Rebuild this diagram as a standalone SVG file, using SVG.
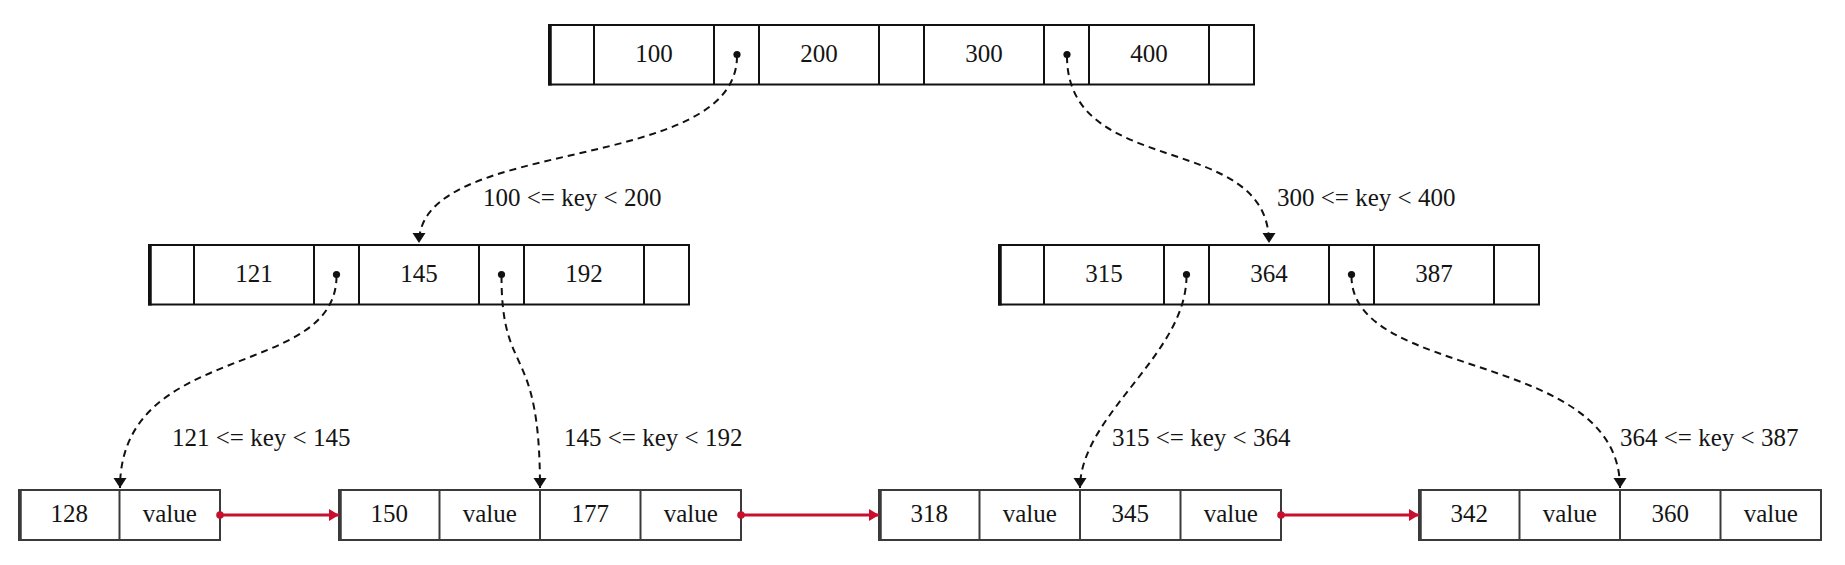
<svg xmlns="http://www.w3.org/2000/svg" width="1845" height="565" viewBox="0 0 1845 565">
<defs>
<style>
.cell{fill:#fff;stroke:#111;stroke-width:2}
.lcell{fill:#fff;stroke:#3a3a3a;stroke-width:2}
.edge{stroke:#111;stroke-width:3.5}
.ledge{stroke:#3a3a3a;stroke-width:3.5}
.div{stroke:#111;stroke-width:2}
.ldiv{stroke:#3a3a3a;stroke-width:2}
text{font-family:"Liberation Serif","DejaVu Serif",serif;font-size:25px;fill:#141414}
.t{text-anchor:middle}
.dot{fill:#111}
.dash{fill:none;stroke:#111;stroke-width:2;stroke-dasharray:7 5}
.red{fill:none;stroke:#c8102e;stroke-width:3}
.rdot{fill:#c8102e}
</style>
<marker id="ah" markerUnits="userSpaceOnUse" markerWidth="11" markerHeight="14" refX="10" refY="6.5" orient="auto">
<path d="M0,0 L10,6.5 L0,13 z" fill="#111"/>
</marker>
<marker id="rh" markerUnits="userSpaceOnUse" markerWidth="11" markerHeight="13" refX="10" refY="6" orient="auto">
<path d="M0,0 L10,6 L0,12 z" fill="#c8102e"/>
</marker>
</defs>
<rect width="1845" height="565" fill="#fff"/>

<g id="root">
<rect class="cell" x="549" y="25" width="705" height="59.5"/>
<line class="edge" x1="550" y1="24" x2="550" y2="85.5"/>
<line class="div" x1="594" y1="25" x2="594" y2="84.5"/>
<line class="div" x1="714" y1="25" x2="714" y2="84.5"/>
<line class="div" x1="759" y1="25" x2="759" y2="84.5"/>
<line class="div" x1="879" y1="25" x2="879" y2="84.5"/>
<line class="div" x1="924" y1="25" x2="924" y2="84.5"/>
<line class="div" x1="1044" y1="25" x2="1044" y2="84.5"/>
<line class="div" x1="1089" y1="25" x2="1089" y2="84.5"/>
<line class="div" x1="1209" y1="25" x2="1209" y2="84.5"/>
<text class="t" x="654" y="61.5">100</text>
<text class="t" x="819" y="61.5">200</text>
<text class="t" x="984" y="61.5">300</text>
<text class="t" x="1149" y="61.5">400</text>
<circle class="dot" cx="737" cy="54.5" r="3.6"/>
<circle class="dot" cx="1067" cy="54.5" r="3.6"/>
</g>

<g id="inner-left">
<rect class="cell" x="149" y="245" width="540" height="59.5"/>
<line class="edge" x1="150" y1="244" x2="150" y2="305.5"/>
<line class="div" x1="194" y1="245" x2="194" y2="304.5"/>
<line class="div" x1="314" y1="245" x2="314" y2="304.5"/>
<line class="div" x1="359" y1="245" x2="359" y2="304.5"/>
<line class="div" x1="479" y1="245" x2="479" y2="304.5"/>
<line class="div" x1="524" y1="245" x2="524" y2="304.5"/>
<line class="div" x1="644" y1="245" x2="644" y2="304.5"/>
<text class="t" x="254" y="281.5">121</text>
<text class="t" x="419" y="281.5">145</text>
<text class="t" x="584" y="281.5">192</text>
<circle class="dot" cx="336.5" cy="274.5" r="3.6"/>
<circle class="dot" cx="501.5" cy="274.5" r="3.6"/>
</g>

<g id="inner-right">
<rect class="cell" x="999" y="245" width="540" height="59.5"/>
<line class="edge" x1="1000" y1="244" x2="1000" y2="305.5"/>
<line class="div" x1="1044" y1="245" x2="1044" y2="304.5"/>
<line class="div" x1="1164" y1="245" x2="1164" y2="304.5"/>
<line class="div" x1="1209" y1="245" x2="1209" y2="304.5"/>
<line class="div" x1="1329" y1="245" x2="1329" y2="304.5"/>
<line class="div" x1="1374" y1="245" x2="1374" y2="304.5"/>
<line class="div" x1="1494" y1="245" x2="1494" y2="304.5"/>
<text class="t" x="1104" y="281.5">315</text>
<text class="t" x="1269" y="281.5">364</text>
<text class="t" x="1434" y="281.5">387</text>
<circle class="dot" cx="1186.5" cy="274.5" r="3.6"/>
<circle class="dot" cx="1351.5" cy="274.5" r="3.6"/>
</g>

<g id="leaf1">
<rect class="lcell" x="19" y="490" width="201" height="50"/>
<line class="ledge" x1="20" y1="489" x2="20" y2="541"/>
<line class="ldiv" x1="119.5" y1="490" x2="119.5" y2="540"/>
<text class="t" x="69.25" y="522">128</text>
<text class="t" x="169.75" y="522">value</text>
</g>

<g id="leaf2">
<rect class="lcell" x="339" y="490" width="402" height="50"/>
<line class="ledge" x1="340" y1="489" x2="340" y2="541"/>
<line class="ldiv" x1="439.5" y1="490" x2="439.5" y2="540"/>
<line class="ldiv" x1="540" y1="490" x2="540" y2="540"/>
<line class="ldiv" x1="640.5" y1="490" x2="640.5" y2="540"/>
<text class="t" x="389.25" y="522">150</text>
<text class="t" x="489.75" y="522">value</text>
<text class="t" x="590.25" y="522">177</text>
<text class="t" x="690.75" y="522">value</text>
</g>

<g id="leaf3">
<rect class="lcell" x="879" y="490" width="402" height="50"/>
<line class="ledge" x1="880" y1="489" x2="880" y2="541"/>
<line class="ldiv" x1="979.5" y1="490" x2="979.5" y2="540"/>
<line class="ldiv" x1="1080" y1="490" x2="1080" y2="540"/>
<line class="ldiv" x1="1180.5" y1="490" x2="1180.5" y2="540"/>
<text class="t" x="929.25" y="522">318</text>
<text class="t" x="1029.75" y="522">value</text>
<text class="t" x="1130.25" y="522">345</text>
<text class="t" x="1230.75" y="522">value</text>
</g>

<g id="leaf4">
<rect class="lcell" x="1419" y="490" width="402" height="50"/>
<line class="ledge" x1="1420" y1="489" x2="1420" y2="541"/>
<line class="ldiv" x1="1519.5" y1="490" x2="1519.5" y2="540"/>
<line class="ldiv" x1="1620" y1="490" x2="1620" y2="540"/>
<line class="ldiv" x1="1720.5" y1="490" x2="1720.5" y2="540"/>
<text class="t" x="1469.25" y="522">342</text>
<text class="t" x="1569.75" y="522">value</text>
<text class="t" x="1670.25" y="522">360</text>
<text class="t" x="1770.75" y="522">value</text>
</g>

<g id="connectors">
<path class="dash" marker-end="url(#ah)" d="M737,56 C737,175 419,135 419,243"/>
<path class="dash" marker-end="url(#ah)" d="M1067,56 C1067,180 1269,130 1269,243"/>
<path class="dash" marker-end="url(#ah)" d="M336.5,276 C336.5,380 120,340 120,488"/>
<path class="dash" marker-end="url(#ah)" d="M501.5,276 C501.5,380 540,340 540,488"/>
<path class="dash" marker-end="url(#ah)" d="M1186.5,276 C1186.5,355 1080,415 1080,488"/>
<path class="dash" marker-end="url(#ah)" d="M1351.5,276 C1351.5,380 1620,350 1620,488"/>
<text x="483" y="206">100 &lt;= key &lt; 200</text>
<text x="1277" y="206">300 &lt;= key &lt; 400</text>
<text x="172" y="446">121 &lt;= key &lt; 145</text>
<text x="564" y="446">145 &lt;= key &lt; 192</text>
<text x="1112" y="446">315 &lt;= key &lt; 364</text>
<text x="1620" y="446">364 &lt;= key &lt; 387</text>
<circle class="rdot" cx="220" cy="515" r="3.8"/>
<path class="red" marker-end="url(#rh)" d="M220,515 L339,515"/>
<circle class="rdot" cx="741" cy="515" r="3.8"/>
<path class="red" marker-end="url(#rh)" d="M741,515 L879,515"/>
<circle class="rdot" cx="1281" cy="515" r="3.8"/>
<path class="red" marker-end="url(#rh)" d="M1281,515 L1419,515"/>
</g>
</svg>
